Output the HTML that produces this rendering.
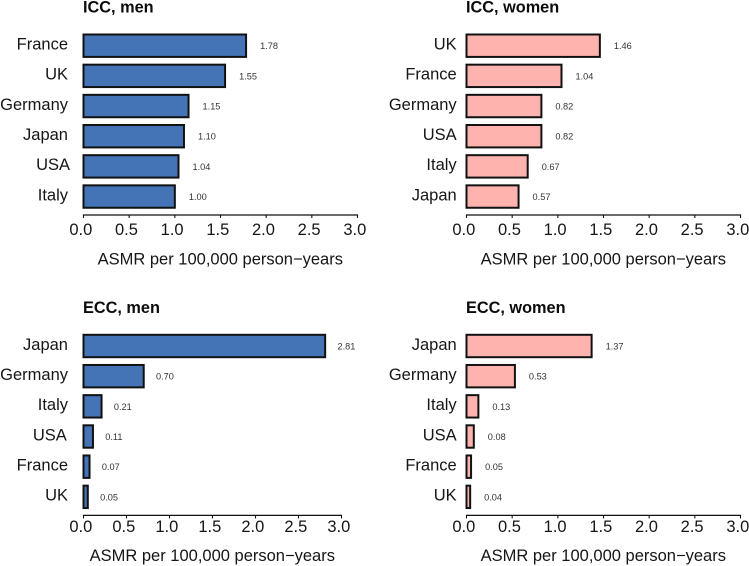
<!DOCTYPE html>
<html lang="en">
<head>
<meta charset="utf-8">
<title>ASMR bar charts</title>
<style>
html,body{margin:0;padding:0;background:#fff;width:749px;height:566px;overflow:hidden}
svg{display:block;font-family:"Liberation Sans",Arial,sans-serif}
</style>
</head>
<body>
<svg id="chart" width="749" height="566" viewBox="0 0 749 566" xmlns="http://www.w3.org/2000/svg"></svg>
<script>
const iccMenCategories = ["France", "UK", "Germany", "Japan", "USA", "Italy"];
const iccMenValues = [1.78, 1.55, 1.15, 1.10, 1.04, 1.00];
const iccWomenCategories = ["UK", "France", "Germany", "USA", "Italy", "Japan"];
const iccWomenValues = [1.46, 1.04, 0.82, 0.82, 0.67, 0.57];
const eccMenCategories = ["Japan", "Germany", "Italy", "USA", "France", "UK"];
const eccMenValues = [2.81, 0.70, 0.21, 0.11, 0.07, 0.05];
const eccWomenCategories = ["Japan", "Germany", "Italy", "USA", "France", "UK"];
const eccWomenValues = [1.37, 0.53, 0.13, 0.08, 0.05, 0.04];
const xTickLabels = ["0.0", "0.5", "1.0", "1.5", "2.0", "2.5", "3.0"];
const xAxisTitle = "ASMR per 100,000 person\u2212years";
const xMax = 3;

const NS = "http://www.w3.org/2000/svg";
const svg = document.getElementById("chart");
const BLUE = "#4474b6";
const PINK = "#ffb3ae";
const INK = "#161616";

const panels = [
  { key: "icc-men", title: "ICC, men", cats: iccMenCategories, vals: iccMenValues, fill: BLUE,
    x0: 83.5, x1: 357.5, axisY: 215, firstY: 45.7, titleY: 12.5, tickY: 235, labelY: 264.5, labelX: 220.3, catX: 68, usaNudge: 2, valGap: 14 },
  { key: "icc-women", title: "ICC, women", cats: iccWomenCategories, vals: iccWomenValues, fill: PINK,
    x0: 466.5, x1: 740.5, axisY: 215, firstY: 45.7, titleY: 12.5, tickY: 235, labelY: 264.5, labelX: 603.3, catX: 456.7, usaNudge: 0, valGap: 14 },
  { key: "ecc-men", title: "ECC, men", cats: eccMenCategories, vals: eccMenValues, fill: BLUE,
    x0: 83.5, x1: 341.5, axisY: 515.4, firstY: 346, titleY: 313, tickY: 532, labelY: 561, labelX: 212.3, catX: 68, usaNudge: -1.2, valGap: 12.3 },
  { key: "ecc-women", title: "ECC, women", cats: eccWomenCategories, vals: eccWomenValues, fill: PINK,
    x0: 466.5, x1: 740.5, axisY: 515.4, firstY: 346, titleY: 313, tickY: 532, labelY: 561, labelX: 603.3, catX: 456.7, usaNudge: 0, valGap: 14 }
];

const ROW_STEP = 30.17;
const BAR_H = 22.4;

function mk(tag, attrs, text) {
  const el = document.createElementNS(NS, tag);
  for (const k in attrs) el.setAttribute(k, attrs[k]);
  if (text !== undefined) el.textContent = text;
  return el;
}

panels.forEach(function (p) {
  const xScale = function (v) { return p.x0 + (v / xMax) * (p.x1 - p.x0); };
  const yScale = function (i) { return p.firstY + i * ROW_STEP; };

  const g = mk("g", {});
  
  
  svg.appendChild(g);

  const title = mk("text", { x: p.x0 - 0.5, y: p.titleY, "font-size": 16.3, "font-weight": "bold", fill: "#0c0c0c" }, p.title);
  
  
  g.appendChild(title);

  p.vals.forEach(function (v, i) {
    const cy = yScale(i);
    const bar = mk("rect", {
      x: xScale(0), y: cy - BAR_H / 2, width: xScale(v) - xScale(0), height: BAR_H,
      fill: p.fill, stroke: "#111", "stroke-width": 2
    });
    
    
    g.appendChild(bar);

    const nudge = p.cats[i] === "USA" ? p.usaNudge : 0;
    const cat = mk("text", { x: p.catX + nudge, y: cy + 3.8, "font-size": 16.5, "text-anchor": "end", fill: INK }, p.cats[i]);
    
    
    g.appendChild(cat);

    const val = mk("text", { x: xScale(v) + p.valGap, y: cy + 3.5, "font-size": 9.2, fill: "#333" }, v.toFixed(2));
    
    
    g.appendChild(val);
  });

  const axis = mk("line", { x1: p.x0 - 0.6, x2: p.x1 + 0.6, y1: p.axisY, y2: p.axisY, stroke: "#111", "stroke-width": 1.3 });
  
  
  g.appendChild(axis);

  xTickLabels.forEach(function (t) {
    const tx = xScale(parseFloat(t));
    const tick = mk("line", { x1: tx, x2: tx, y1: p.axisY, y2: p.axisY + 3, stroke: "#111", "stroke-width": 1.1 });
    
    
    g.appendChild(tick);

    const lab = mk("text", { x: tx - 2.7, y: p.tickY, "font-size": 16.5, "text-anchor": "middle", fill: INK }, t);
    
    
    g.appendChild(lab);
  });

  const xt = mk("text", { x: p.labelX, y: p.labelY, "font-size": 16.5, "text-anchor": "middle", fill: INK }, xAxisTitle);
  
  
  g.appendChild(xt);
});
</script>
</body>
</html>
